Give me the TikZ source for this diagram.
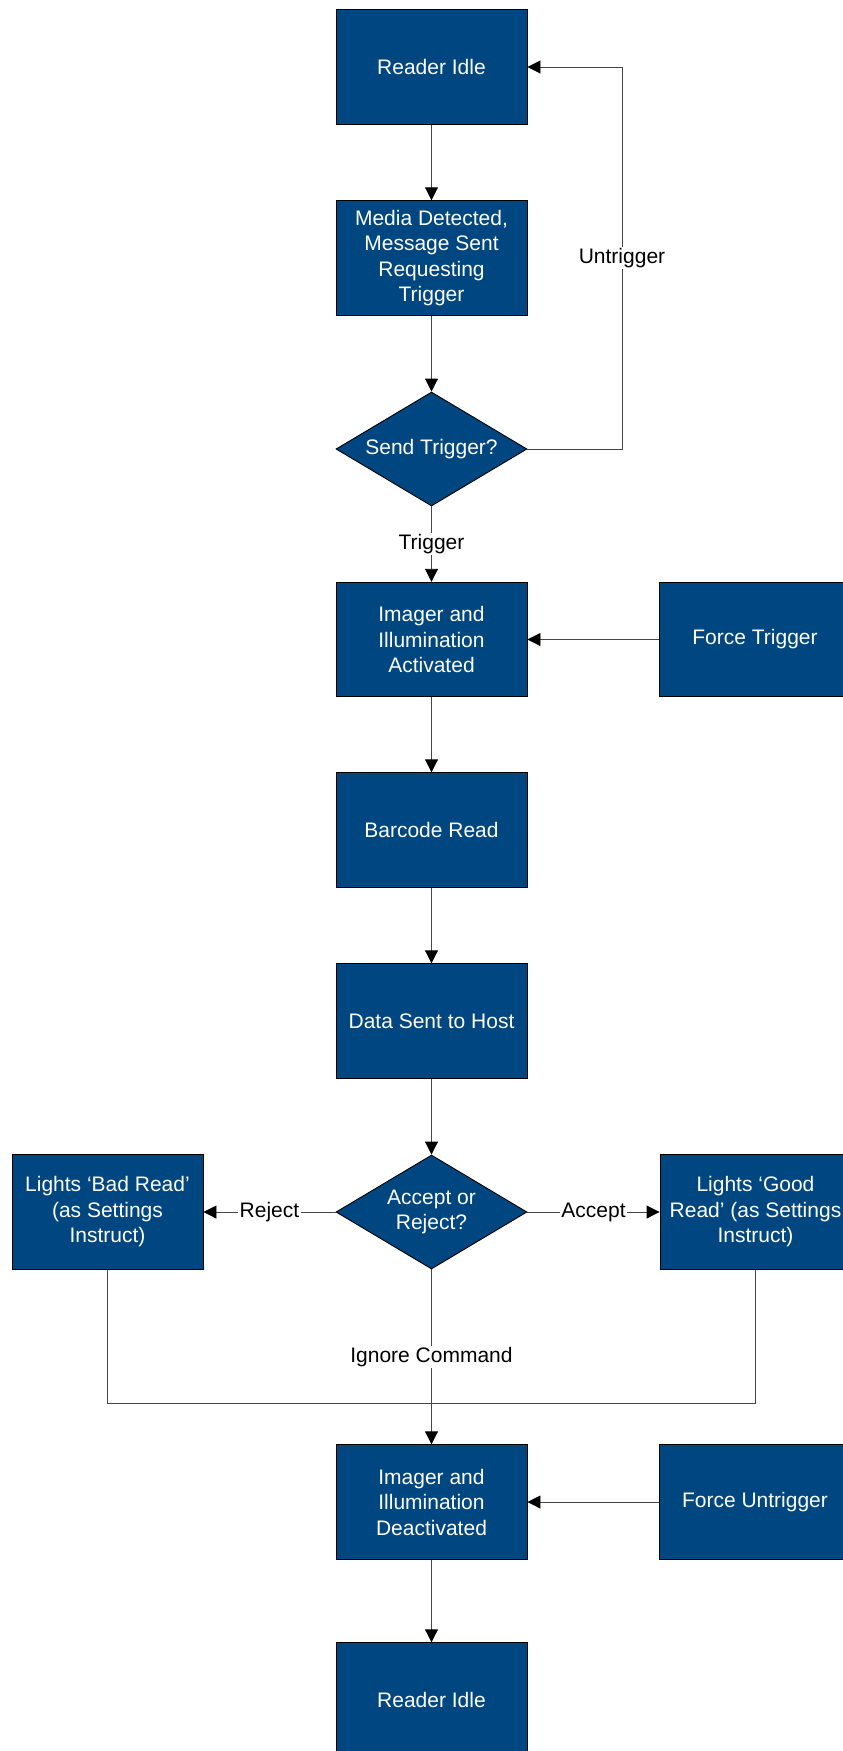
\documentclass[tikz,border=0pt]{standalone}
\usepackage{fontspec}
\setmainfont{Liberation Sans}
\usetikzlibrary{arrows.meta,shapes.geometric,calc}
\definecolor{boxblue}{RGB}{0,70,128}
\definecolor{linegray}{RGB}{70,70,70}
\begin{document}
\begin{tikzpicture}[x=1pt,y=-1pt,
  every node/.style={font=\fontsize{21}{25.5}\selectfont},
  stepbox/.style={rectangle, draw=black, line width=0.9pt, fill=boxblue, text=white,
    minimum width=191pt, minimum height=114.5pt, inner sep=0pt, align=center},
  decbox/.style={diamond, draw=black, line width=0.9pt, fill=boxblue, text=white,
    aspect=1.675, minimum width=191pt, minimum height=114pt, inner sep=0pt, align=center},
  conn/.style={draw=linegray, line width=0.9pt},
  arr/.style={conn, -{Triangle[length=13pt,width=13pt,color=black]}},
  lbl/.style={fill=white, text=black, inner sep=1.5pt}
]
\useasboundingbox (0,0) rectangle (843,1751);
\clip (0,0) rectangle (843,1751);

\node[stepbox] (idle1) at (431.5,67) {Reader Idle};
\node[stepbox] (media) at (431.5,258) {Media Detected,\\Message Sent\\Requesting\\Trigger};
\node[decbox] (send) at (431.5,449) {Send Trigger?};
\node[stepbox] (act) at (431.5,639.5) {Imager and\\Illumination\\Activated};
\node[stepbox] (ftrig) at (755,639.5) {Force Trigger};
\node[stepbox] (barcode) at (431.5,830) {Barcode Read};
\node[stepbox] (data) at (431.5,1021) {Data Sent to Host};
\node[decbox] (accept) at (431.5,1212) {Accept or\\Reject?};
\node[stepbox] (bad) at (107.5,1212) {Lights ‘Bad Read’\\(as Settings\\Instruct)};
\node[stepbox] (good) at (755.5,1212) {Lights ‘Good\\Read’ (as Settings\\Instruct)};
\node[stepbox] (deact) at (431.5,1502) {Imager and\\Illumination\\Deactivated};
\node[stepbox] (funtrig) at (755,1502) {Force Untrigger};
\node[stepbox] (idle2) at (431.5,1700) {Reader Idle};

\coordinate (utx) at (622,0);
\coordinate (join) at (431.5,1403);

\draw[arr] (idle1.south) -- (media.north);
\draw[arr] (media.south) -- (send.north);
\draw[arr] (send.south) -- node[lbl] {Trigger} (act.north);
\draw[arr] (send.east) -- (send.east -| utx) -- node[lbl] {Untrigger} (idle1.east -| utx) -- (idle1.east);
\draw[arr] (ftrig.west) -- (act.east);
\draw[arr] (act.south) -- (barcode.north);
\draw[arr] (barcode.south) -- (data.north);
\draw[arr] (data.south) -- (accept.north);
\draw[arr] (accept.west) -- node[lbl] {Reject} (bad.east);
\draw[arr] (accept.east) -- node[lbl] {Accept} (good.west);
\draw[conn] (bad.south) |- (join) -| (good.south);
\draw[arr] (accept.south) -- node[lbl] {Ignore Command} (deact.north);
\draw[arr] (funtrig.west) -- (deact.east);
\draw[arr] (deact.south) -- (idle2.north);
\end{tikzpicture}
\end{document}
